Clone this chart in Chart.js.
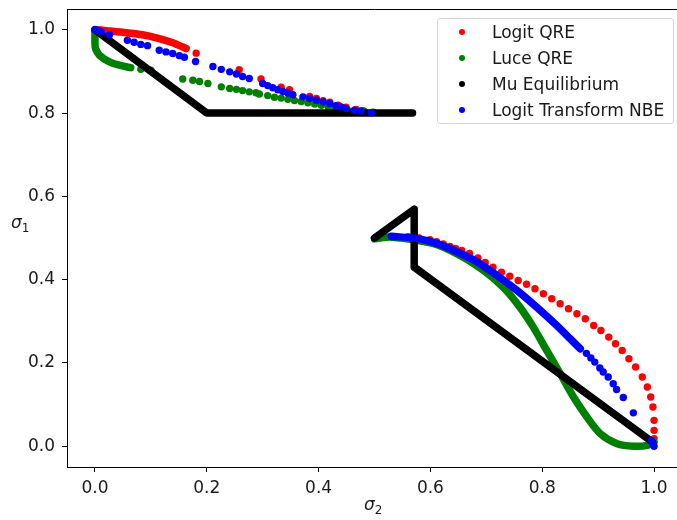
<!DOCTYPE html>
<html>
<head>
<meta charset="utf-8">
<script src="https://cdn.jsdelivr.net/npm/chart.js@4.4.0/dist/chart.umd.min.js"></script>
<style>
  html, body { margin: 0; padding: 0; background: #fff; overflow: hidden; width: 677px; height: 520px; }
  #wrap { position: relative; width: 677px; height: 520px; overflow: hidden; }
  #chart { position: absolute; left: 0; top: 0; }
  .legend {
    position: absolute; left: 437px; top: 18px; width: 235px; height: 104px;
    border: 1px solid #d6d6d6; border-radius: 3px; background: rgba(255,255,255,0.8);
    font-family: 'DejaVu Sans'; font-size: 17px; color: #1a1a1a;
  }
  .legend .row { position: absolute; left: 0; width: 100%; height: 20px; line-height: 20px; }
  .legend .dot { position: absolute; left: 21px; top: 7px; width: 6px; height: 6px; border-radius: 50%; }
  .legend .txt { position: absolute; left: 54px; white-space: nowrap; }
  .axlabel { position: absolute; font-family: 'DejaVu Sans'; font-size: 17px; color: #1a1a1a; white-space: nowrap; }
  .axlabel i { font-style: italic; }
  .axlabel .sub { font-size: 12px; position: relative; top: 4px; }
</style>
</head>
<body>
<div id="wrap">
  <canvas id="chart" width="700" height="520"></canvas>
  <div class="legend" id="legend"></div>
  <div class="axlabel" style="left:364px; top:494px;"><i>σ</i><span class="sub">2</span></div>
  <div class="axlabel" style="left:11px; top:212px;"><i>σ</i><span class="sub">1</span></div>
</div>
<script>
// tick values
const xTicks = [0, 0.2, 0.4, 0.6, 0.8, 1.0];
const yTicks = [0, 0.2, 0.4, 0.6, 0.8, 1.0];

// Logit QRE (red) - [sigma2, sigma1]
const logitUpperBand = [[0, 1], [0.01, 0.9995], [0.026, 0.997], [0.056, 0.993], [0.085, 0.988], [0.115, 0.979], [0.139, 0.969], [0.163, 0.955]];
const logitUpperDots = [[0.181, 0.944], [0.258, 0.904], [0.297, 0.882], [0.333, 0.862], [0.348, 0.856], [0.384, 0.840], [0.396, 0.835], [0.408, 0.830],
  [0.420, 0.826], [0.435, 0.819], [0.449, 0.814], [0.467, 0.809], [0.479, 0.806]];
const logitLowerDots = [[0.54, 0.503], [0.56, 0.503], [0.58, 0.500], [0.599, 0.496], [0.611, 0.491], [0.623, 0.486], [0.635, 0.480], [0.645, 0.475],
  [0.656, 0.470], [0.670, 0.463], [0.685, 0.452], [0.698, 0.441], [0.712, 0.430], [0.727, 0.418], [0.742, 0.408], [0.757, 0.398],
  [0.772, 0.389], [0.787, 0.378], [0.802, 0.366], [0.817, 0.354], [0.832, 0.342], [0.847, 0.330], [0.862, 0.318], [0.877, 0.306],
  [0.892, 0.290], [0.905, 0.278], [0.919, 0.262], [0.931, 0.246], [0.943, 0.230], [0.955, 0.210], [0.967, 0.190], [0.979, 0.166],
  [0.988, 0.142], [0.994, 0.118], [0.998, 0.094], [1.0, 0.062], [1.0, 0.038], [1.0, 0.018]];

// Luce QRE (green)
const luceUpperBand = [[0, 0.995], [0, 0.97], [0.001, 0.955], [0.008, 0.939], [0.026, 0.923], [0.0435, 0.915], [0.064, 0.909]];
const luceUpperDots = [[0.082, 0.905], [0.100, 0.903], [0.157, 0.882], [0.175, 0.879], [0.187, 0.876], [0.202, 0.871], [0.226, 0.863],
  [0.241, 0.859], [0.253, 0.857], [0.264, 0.854], [0.276, 0.851], [0.288, 0.849], [0.294, 0.846], [0.309, 0.842], [0.321, 0.838],
  [0.333, 0.836], [0.345, 0.833], [0.357, 0.830], [0.369, 0.828], [0.381, 0.825], [0.393, 0.822], [0.405, 0.819], [0.417, 0.815],
  [0.429, 0.812], [0.440, 0.809], [0.452, 0.807], [0.467, 0.805], [0.482, 0.804], [0.497, 0.802]];
const luceLowerBand = [[0.5, 0.498], [0.531, 0.502], [0.604, 0.487], [0.652, 0.459], [0.694, 0.423], [0.730, 0.382], [0.760, 0.334],
  [0.784, 0.286], [0.808, 0.230], [0.832, 0.175], [0.856, 0.118], [0.880, 0.070], [0.904, 0.030], [0.934, 0.006], [0.964, 0.0],
  [0.988, 0.002], [1.0, 0.01]];

// Mu Equilibrium (black)
const muUpper = [[0, 1], [0.2, 0.8], [0.568, 0.8]];
const muLower = [[0.5, 0.5], [0.571, 0.569], [0.571, 0.43], [0.997, 0.01]];

// Logit Transform NBE (blue)
const nbeUpperDots = [[0, 1], [0.006, 0.998], [0.011, 0.995], [0.026, 0.988], [0.058, 0.975], [0.070, 0.970], [0.082, 0.965], [0.094, 0.962],
  [0.115, 0.951], [0.127, 0.947], [0.139, 0.943], [0.151, 0.938], [0.160, 0.934], [0.180, 0.924], [0.211, 0.912], [0.226, 0.905],
  [0.241, 0.899], [0.253, 0.894], [0.264, 0.888], [0.276, 0.883], [0.300, 0.871], [0.309, 0.866], [0.318, 0.861], [0.327, 0.856],
  [0.336, 0.852], [0.345, 0.848], [0.354, 0.844], [0.372, 0.839], [0.384, 0.835], [0.396, 0.831], [0.408, 0.827], [0.420, 0.823],
  [0.431, 0.818], [0.440, 0.815], [0.449, 0.811], [0.464, 0.807], [0.476, 0.805], [0.494, 0.801]];
const nbeLowerBand = [[0.530, 0.504], [0.575, 0.499], [0.611, 0.487], [0.647, 0.467], [0.683, 0.443], [0.719, 0.410], [0.755, 0.374],
  [0.790, 0.334], [0.826, 0.290], [0.850, 0.258], [0.868, 0.234]];
const nbeLowerDots = [[0.879, 0.223], [0.887, 0.212], [0.894, 0.202], [0.903, 0.188], [0.909, 0.178], [0.918, 0.166], [0.927, 0.150],
  [0.933, 0.136], [0.945, 0.117], [0.963, 0.080], [0.995, 0.014], [0.998, 0.006], [1.0, 0.0]];

const seriesNames = ['Logit QRE', 'Luce QRE', 'Mu Equilibrium', 'Logit Transform NBE'];
const seriesColors = ['#ff0000', '#008000', '#000000', '#0000ff'];

function pts(arr) {
  return arr.map(p => ({ x: p[0], y: p[1] }));
}

function dots(arr, color) {
  return { data: pts(arr), backgroundColor: color, pointRadius: 3.7, pointBorderWidth: 0, showLine: false };
}

function band(arr, color, tension) {
  return {
    data: pts(arr), borderColor: color, borderWidth: 7.5, showLine: true, pointRadius: 0,
    borderCapStyle: 'round', borderJoinStyle: 'round', tension: tension
  };
}

// legend (matplotlib style box)
const legendEl = document.getElementById('legend');
seriesNames.forEach((name, i) => {
  const row = document.createElement('div');
  row.className = 'row';
  row.style.top = (3 + i * 26) + 'px';
  row.innerHTML = '<span class="dot" style="background:' + seriesColors[i] + '"></span><span class="txt">' + name + '</span>';
  legendEl.appendChild(row);
});

// top spine (the right one is cut off in the original)
const frame = {
  id: 'frame',
  afterDraw(chart) {
    const a = chart.chartArea;
    const ctx = chart.ctx;
    ctx.save();
    ctx.strokeStyle = '#000';
    ctx.lineWidth = 1;
    ctx.beginPath();
    ctx.moveTo(a.left, a.top + 0.5);
    ctx.lineTo(a.right, a.top + 0.5);
    ctx.stroke();
    ctx.restore();
  }
};

// keep the plot box fixed, no label overhang padding
function noPad(scale) {
  scale.paddingTop = 0;
  scale.paddingBottom = 0;
  scale.paddingLeft = 0;
  scale.paddingRight = 0;
}

Chart.defaults.font.family = 'DejaVu Sans';
Chart.defaults.font.size = 17;
Chart.defaults.color = '#1a1a1a';

new Chart(document.getElementById('chart'), {
  type: 'scatter',
  data: {
    // first dataset is drawn on top
    datasets: [
      dots(nbeUpperDots, seriesColors[3]),
      dots(nbeLowerDots, seriesColors[3]),
      band(nbeLowerBand, seriesColors[3], 0.3),
      band(muUpper, seriesColors[2], 0),
      band(muLower, seriesColors[2], 0),
      dots(luceUpperDots, seriesColors[1]),
      band(luceUpperBand, seriesColors[1], 0.3),
      band(luceLowerBand, seriesColors[1], 0.3),
      dots(logitUpperDots, seriesColors[0]),
      dots(logitLowerDots, seriesColors[0]),
      band(logitUpperBand, seriesColors[0], 0.3)
    ]
  },
  options: {
    responsive: false,
    animation: false,
    layout: { padding: { left: 0, top: 9, right: 18, bottom: 0 } },
    plugins: { legend: { display: false }, tooltip: { enabled: false } },
    scales: {
      x: {
        type: 'linear', min: -0.05, max: 1.05,
        afterFit(scale) { scale.height = 53; noPad(scale); },
        afterBuildTicks(scale) { scale.ticks = xTicks.map(v => ({ value: v })); },
        grid: { drawOnChartArea: false, drawTicks: true, tickLength: 5, tickColor: '#000' },
        border: { display: true, color: '#000', width: 1 },
        ticks: { padding: 6, maxRotation: 0, callback: v => v.toFixed(1) }
      },
      y: {
        type: 'linear', min: -0.05, max: 1.05,
        afterFit(scale) { scale.width = 67; noPad(scale); },
        afterBuildTicks(scale) { scale.ticks = yTicks.map(v => ({ value: v })); },
        grid: { drawOnChartArea: false, drawTicks: true, tickLength: 5, tickColor: '#000' },
        border: { display: true, color: '#000', width: 1 },
        ticks: { padding: 7, callback: v => v.toFixed(1) }
      }
    }
  },
  plugins: [frame]
});
</script>
</body>
</html>
